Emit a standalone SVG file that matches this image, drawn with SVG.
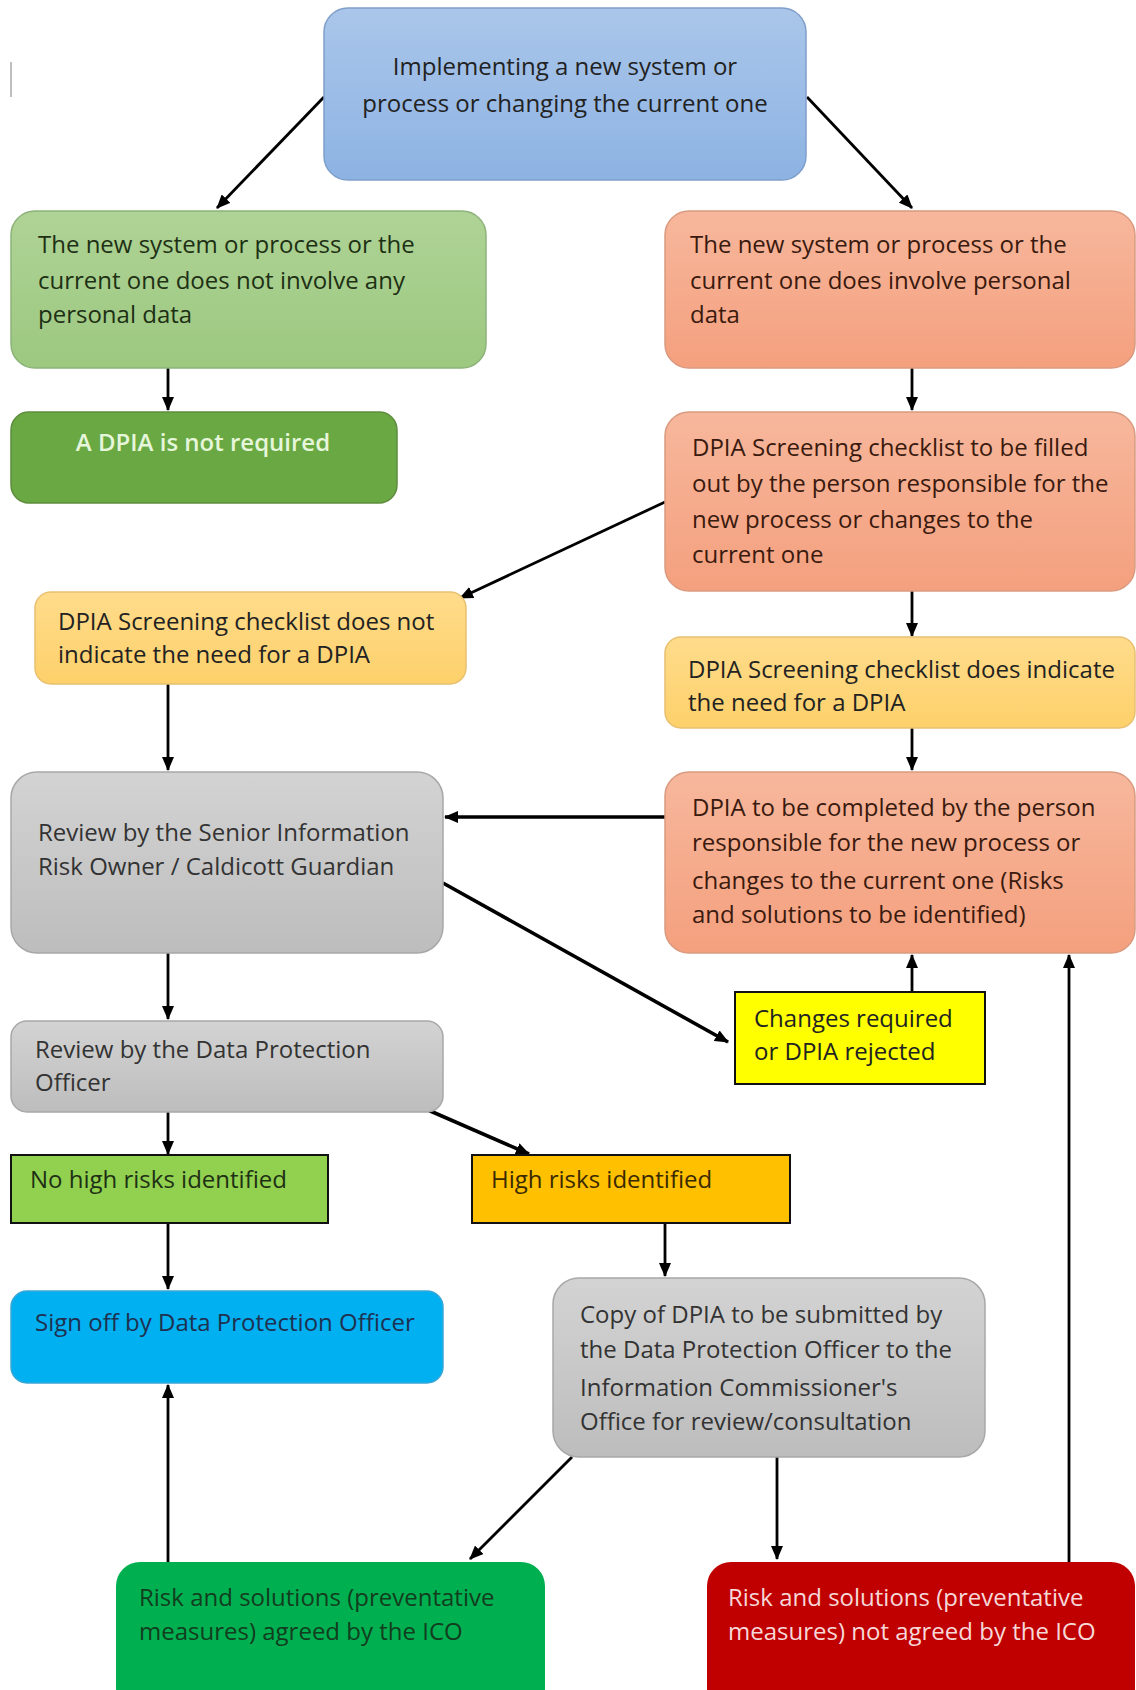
<svg xmlns="http://www.w3.org/2000/svg" width="1136" height="1690" viewBox="0 0 1136 1690">
<defs>
<linearGradient id="gBlue" x1="0" y1="0" x2="0" y2="1"><stop offset="0" stop-color="#aac6ea"/><stop offset="1" stop-color="#8db3e3"/></linearGradient>
<linearGradient id="gGreen" x1="0" y1="0" x2="0" y2="1"><stop offset="0" stop-color="#afd396"/><stop offset="1" stop-color="#9cc880"/></linearGradient>
<linearGradient id="gOrange" x1="0" y1="0" x2="0" y2="1"><stop offset="0" stop-color="#f7b79c"/><stop offset="1" stop-color="#f4a07e"/></linearGradient>
<linearGradient id="gYellow" x1="0" y1="0" x2="0" y2="1"><stop offset="0" stop-color="#ffdc8c"/><stop offset="1" stop-color="#fdd06a"/></linearGradient>
<linearGradient id="gGray" x1="0" y1="0" x2="0" y2="1"><stop offset="0" stop-color="#d3d3d3"/><stop offset="1" stop-color="#bdbdbd"/></linearGradient>
<marker id="ah" markerUnits="userSpaceOnUse" markerWidth="14" markerHeight="12" viewBox="0 0 14 12" refX="13" refY="6" orient="auto"><path d="M0,0 L14,6 L0,12 z" fill="#000"/></marker>
<style>
text{font-family:"Open Sans","Liberation Sans",sans-serif;font-size:24px;fill:#222}
.rb{stroke-width:1.5}
.blue{fill:url(#gBlue);stroke:#7f9fca}
.lg{fill:url(#gGreen);stroke:#8db37a}
.or{fill:url(#gOrange);stroke:#d99a7f}
.yl{fill:url(#gYellow);stroke:#e8c070}
.gr{fill:url(#gGray);stroke:#a8a8a8}
.sq{stroke:#111;stroke-width:2}
.t-or{fill:#3a1a0e}
.t-gr{fill:#1e3014}
.t-g{fill:#333}
.conn line{stroke:#000;stroke-width:2.8;marker-end:url(#ah)}
.conn line.thick{stroke-width:3.6}
</style>
</defs>

<line x1="11" y1="62" x2="11" y2="97" stroke="#aaa" stroke-width="1.5"/>

<g id="connectors" class="conn">
<line x1="324" y1="97" x2="217" y2="208"/>
<line x1="807" y1="97" x2="912" y2="208"/>
<line x1="168" y1="368" x2="168" y2="410"/>
<line x1="912" y1="368" x2="912" y2="410"/>
<line x1="665" y1="502" x2="460" y2="598"/>
<line x1="912" y1="591" x2="912" y2="636"/>
<line x1="168" y1="684" x2="168" y2="770"/>
<line x1="912" y1="728" x2="912" y2="770"/>
<line class="thick" x1="665" y1="817" x2="445" y2="817"/>
<line class="thick" x1="443" y1="883" x2="728" y2="1042"/>
<line x1="912" y1="992" x2="912" y2="955"/>
<line x1="168" y1="953" x2="168" y2="1019"/>
<line x1="168" y1="1112" x2="168" y2="1154"/>
<line class="thick" x1="428" y1="1110" x2="529" y2="1154"/>
<line x1="168" y1="1223" x2="168" y2="1289"/>
<line x1="665" y1="1223" x2="665" y2="1276"/>
<line x1="572" y1="1457" x2="470" y2="1559"/>
<line x1="777" y1="1457" x2="777" y2="1559"/>
<line x1="168" y1="1562" x2="168" y2="1385"/>
<line x1="1069" y1="1562" x2="1069" y2="955"/>
</g>

<g id="n-start">
<rect class="rb blue" x="324" y="8" width="482" height="172" rx="24"/>
<text x="565" y="75" text-anchor="middle">Implementing a new system or</text>
<text x="565" y="112" text-anchor="middle">process or changing the current one</text>
</g>

<g id="n-no-personal">
<rect class="rb lg" x="11" y="211" width="475" height="157" rx="24"/>
<text class="t-gr" x="38" y="253">The new system or process or the</text>
<text class="t-gr" x="38" y="289">current one does not involve any</text>
<text class="t-gr" x="38" y="323">personal data</text>
</g>

<g id="n-personal">
<rect class="rb or" x="665" y="211" width="470" height="157" rx="24"/>
<text class="t-or" x="690" y="253">The new system or process or the</text>
<text class="t-or" x="690" y="289">current one does involve personal</text>
<text class="t-or" x="690" y="323">data</text>
</g>

<g id="n-not-required">
<rect x="11" y="412" width="386" height="91" rx="18" fill="#6aa843" stroke="#5d8c3d" stroke-width="1.5"/>
<text x="203" y="451" text-anchor="middle" style="fill:#e6f6da;font-weight:600">A DPIA is not required</text>
</g>

<g id="n-screening">
<rect class="rb or" x="665" y="412" width="470" height="179" rx="24"/>
<text class="t-or" x="692" y="456">DPIA Screening checklist to be filled</text>
<text class="t-or" x="692" y="492">out by the person responsible for the</text>
<text class="t-or" x="692" y="528">new process or changes to the</text>
<text class="t-or" x="692" y="563">current one</text>
</g>

<g id="n-no-need">
<rect class="rb yl" x="35" y="592" width="431" height="92" rx="16"/>
<text x="58" y="630">DPIA Screening checklist does not</text>
<text x="58" y="663">indicate the need for a DPIA</text>
</g>

<g id="n-need">
<rect class="rb yl" x="665" y="637" width="470" height="91" rx="16"/>
<text x="688" y="678">DPIA Screening checklist does indicate</text>
<text x="688" y="711">the need for a DPIA</text>
</g>

<g id="n-siro">
<rect class="rb gr" x="11" y="772" width="432" height="181" rx="26"/>
<text class="t-g" x="38" y="841">Review by the Senior Information</text>
<text class="t-g" x="38" y="875">Risk Owner / Caldicott Guardian</text>
</g>

<g id="n-complete">
<rect class="rb or" x="665" y="772" width="470" height="181" rx="24"/>
<text class="t-or" x="692" y="816">DPIA to be completed by the person</text>
<text class="t-or" x="692" y="851">responsible for the new process or</text>
<text class="t-or" x="692" y="889">changes to the current one (Risks</text>
<text class="t-or" x="692" y="923">and solutions to be identified)</text>
</g>

<g id="n-changes">
<rect class="sq" x="735" y="992" width="250" height="92" fill="#ffff00"/>
<text x="754" y="1027">Changes required</text>
<text x="754" y="1060">or DPIA rejected</text>
</g>

<g id="n-dpo">
<rect class="rb gr" x="11" y="1021" width="432" height="91" rx="16"/>
<text class="t-g" x="35" y="1058">Review by the Data Protection</text>
<text class="t-g" x="35" y="1091">Officer</text>
</g>

<g id="n-no-high">
<rect class="sq" x="11" y="1155" width="317" height="68" fill="#92d050"/>
<text x="30" y="1188" style="fill:#1e3014">No high risks identified</text>
</g>

<g id="n-high">
<rect class="sq" x="472" y="1155" width="318" height="68" fill="#ffc000"/>
<text x="491" y="1188" style="fill:#3a2a00">High risks identified</text>
</g>

<g id="n-signoff">
<rect x="11" y="1291" width="432" height="92" rx="16" fill="#00b0f0" stroke="#3aa6d6" stroke-width="1.5"/>
<text x="35" y="1331" style="fill:#1f3050">Sign off by Data Protection Officer</text>
</g>

<g id="n-ico">
<rect class="rb gr" x="553" y="1278" width="432" height="179" rx="26"/>
<text class="t-g" x="580" y="1323">Copy of DPIA to be submitted by</text>
<text class="t-g" x="580" y="1358">the Data Protection Officer to the</text>
<text class="t-g" x="580" y="1396">Information Commissioner's</text>
<text class="t-g" x="580" y="1430">Office for review/consultation</text>
</g>

<g id="n-agreed">
<rect x="116" y="1562" width="429" height="150" rx="24" fill="#00b050"/>
<text x="139" y="1606" style="fill:#123d1e">Risk and solutions (preventative</text>
<text x="139" y="1640" style="fill:#123d1e">measures) agreed by the ICO</text>
</g>

<g id="n-not-agreed">
<rect x="707" y="1562" width="428" height="150" rx="24" fill="#c00000"/>
<text x="728" y="1606" style="fill:#f6d8d8">Risk and solutions (preventative</text>
<text x="728" y="1640" style="fill:#f6d8d8">measures) not agreed by the ICO</text>
</g>
</svg>
